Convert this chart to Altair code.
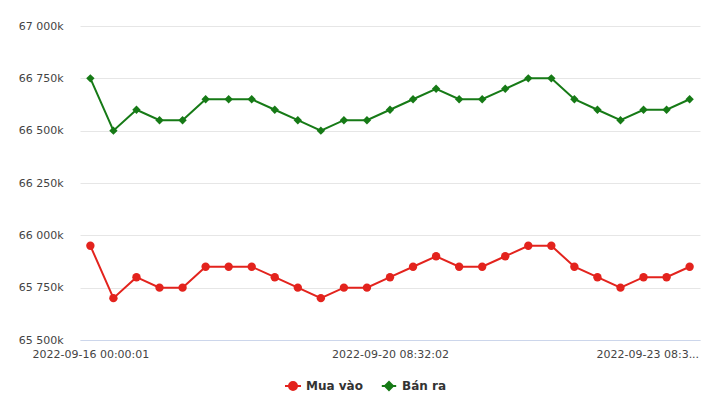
import altair as alt
import pandas as pd

times = [
    "2022-09-16 00:00:01", "2022-09-16 08:30:02", "2022-09-16 14:00:01",
    "2022-09-17 08:30:02", "2022-09-17 14:00:01", "2022-09-18 08:30:02",
    "2022-09-18 14:00:01", "2022-09-19 00:00:01", "2022-09-19 08:32:02",
    "2022-09-19 10:30:02", "2022-09-19 14:00:01", "2022-09-19 16:30:02",
    "2022-09-20 00:00:01", "2022-09-20 08:32:02", "2022-09-20 10:30:02",
    "2022-09-20 14:00:01", "2022-09-21 08:32:02", "2022-09-21 10:30:02",
    "2022-09-21 14:00:01", "2022-09-22 00:00:01", "2022-09-22 08:32:02",
    "2022-09-22 10:30:02", "2022-09-22 14:00:01", "2022-09-22 16:30:02",
    "2022-09-23 00:00:01", "2022-09-23 08:32:02", "2022-09-23 08:35:02",
]
mua_vao = [65950, 65700, 65800, 65750, 65750, 65850, 65850, 65850, 65800,
           65750, 65700, 65750, 65750, 65800, 65850, 65900, 65850, 65850,
           65900, 65950, 65950, 65850, 65800, 65750, 65800, 65800, 65850]
ban_ra = [66750, 66500, 66600, 66550, 66550, 66650, 66650, 66650, 66600,
          66550, 66500, 66550, 66550, 66600, 66650, 66700, 66650, 66650,
          66700, 66750, 66750, 66650, 66600, 66550, 66600, 66600, 66650]
series_names = ["Mua vào", "Bán ra"]
series_colors = ["#e3231d", "#167a16"]
shown_labels = {0: "2022-09-16 00:00:01", 13: "2022-09-20 08:32:02", 26: "2022-09-23 08:3..."}

rows = []
for i, t in enumerate(times):
    rows.append({"time": t, "idx": i, "series": series_names[0], "value": mua_vao[i]})
    rows.append({"time": t, "idx": i, "series": series_names[1], "value": ban_ra[i]})
df = pd.DataFrame(rows)

label_expr = " : ".join(
    [f"datum.value == '{times[k]}' ? '{v}'" for k, v in shown_labels.items()]
) + " : ''"

x = alt.X(
    "time:N",
    sort=times,
    scale=alt.Scale(type="point", padding=0.45),
    axis=alt.Axis(
        title=None, labelAngle=0, labelExpr=label_expr, labelOverlap=False,
        labelFont="DejaVu Sans", labelFontSize=11, labelColor="#444444",
        ticks=False, domainColor="#ccd6eb", grid=False, labelPadding=8,
        labelAlign=alt.ExprRef(expr="datum.value == '" + times[-1] + "' ? 'right' : 'center'"),
        labelOffset=alt.ExprRef(expr="datum.value == '" + times[-1] + "' ? 9 : 0"),
    ),
)
y = alt.Y(
    "value:Q",
    scale=alt.Scale(domain=[65500, 67000], nice=False, zero=False),
    axis=alt.Axis(
        title=None, values=[65500, 65750, 66000, 66250, 66500, 66750, 67000],
        labelExpr="replace(format(datum.value, ',d'), ',', ' ') + 'k'",
        labelFont="DejaVu Sans", labelFontSize=11, labelColor="#444444",
        domain=False, ticks=False, gridColor="#e6e6e6", labelPadding=17,
    ),
)

circle_line = "M-1,0L1,0M-0.5,0A0.5,0.5,0,1,1,0.5,0A0.5,0.5,0,1,1,-0.5,0Z"
diamond_line = "M-0.9,0L0.9,0M-0.5,0L0,-0.5L0.5,0L0,0.5Z"
symbol_expr = f"datum.value == '{series_names[0]}' ? '{circle_line}' : '{diamond_line}'"

color = alt.Color(
    "series:N",
    sort=series_names,
    scale=alt.Scale(domain=series_names, range=series_colors),
    legend=alt.Legend(
        title=None, orient="none", direction="horizontal",
        legendX=204, legendY=351,
        labelFont="DejaVu Sans", labelFontSize=12, labelFontWeight="bold",
        labelColor="#333333", symbolSize=256, symbolStrokeWidth=2,
        columnPadding=14, labelOffset=4,
        symbolType=alt.ExprRef(expr=symbol_expr),
    ),
)

base = alt.Chart(df).encode(x=x, y=y, color=color)
lines = base.mark_line(strokeWidth=2)
red_points = base.transform_filter(
    alt.datum.series == series_names[0]
).mark_point(filled=True, opacity=1, size=70, shape="circle")
green_points = base.transform_filter(
    alt.datum.series == series_names[1]
).mark_point(filled=True, opacity=1, size=70, shape="diamond")

chart = (
    alt.layer(lines, red_points, green_points)
    .properties(width=620, height=314, background="white",
                padding={"left": 80, "top": 26, "right": 20, "bottom": 66},
                autosize=alt.AutoSizeParams(type="none"))
    .configure_view(stroke="transparent", strokeWidth=0)
)
chart.save("out.html", embed_options={"renderer": "svg", "actions": False})
